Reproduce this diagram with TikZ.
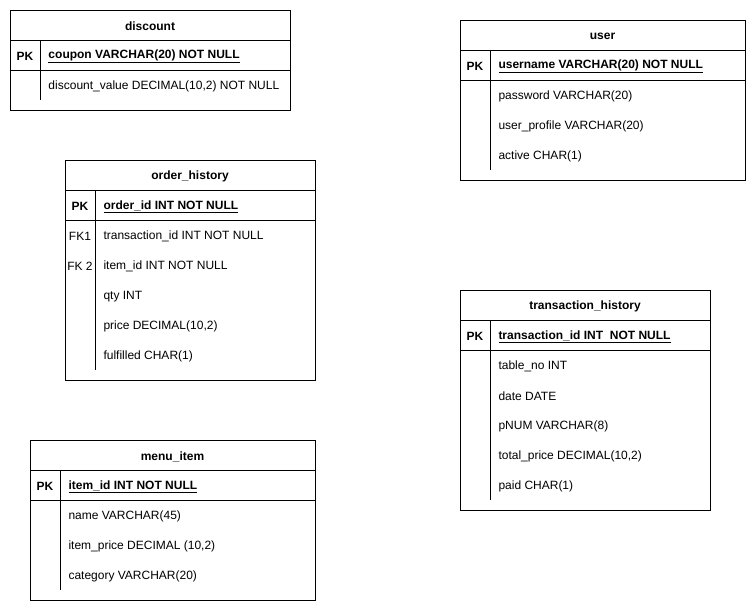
\documentclass[tikz,border=0pt]{standalone}
\usepackage{fontspec}
\setmainfont{Liberation Sans}
\begin{document}
\begin{tikzpicture}[x=1pt,y=-1pt,line width=1pt,
  font=\fontsize{12}{14}\selectfont,
  box/.style={draw,anchor=north west,inner sep=0pt,outer sep=0pt},
  title/.style={inner sep=0pt,yshift=-1.5pt,font=\fontsize{12}{14}\selectfont\bfseries},
  key/.style={inner sep=0pt,yshift=-1.5pt,font=\fontsize{12}{14}\selectfont\bfseries},
  fk/.style={inner sep=0pt,yshift=-1.5pt},
  field/.style={anchor=west,inner sep=0pt,yshift=-1.5pt},
  pkfield/.style={anchor=west,inner sep=0pt,yshift=-1.5pt,font=\fontsize{12}{14}\selectfont\bfseries}]
\useasboundingbox (0,0) rectangle (756,611);

% discount
\node[box,minimum width=280pt,minimum height=100pt] (discount) at (10,10) {};
\node[title] (discount-t) at (150,25) {discount};
\draw (10,40) -- (290,40);
\draw (10,70) -- (290,70);
\draw (40,40) -- (40,100);
\node[key] (discount-pk) at (25,55) {PK};
\node[pkfield] (discount-f0) at (48,55) {\underline{coupon VARCHAR(20) NOT NULL}};
\node[field] (discount-f1) at (48,85) {discount\_value DECIMAL(10,2) NOT NULL};

% user
\node[box,minimum width=285pt,minimum height=160pt] (user) at (460,20) {};
\node[title] (user-t) at (602.5,35) {user};
\draw (460,50) -- (745,50);
\draw (460,80) -- (745,80);
\draw (490,50) -- (490,170);
\node[key] (user-pk) at (475,65) {PK};
\node[pkfield] (user-f0) at (498,65) {\underline{username VARCHAR(20) NOT NULL}};
\node[field] (user-f1) at (498,95) {password VARCHAR(20)};
\node[field] (user-f2) at (498,125) {user\_profile VARCHAR(20)};
\node[field] (user-f3) at (498,155) {active CHAR(1)};

% order_history
\node[box,minimum width=250pt,minimum height=220pt] (order) at (65,160) {};
\node[title] (order-t) at (190,175) {order\_history};
\draw (65,190) -- (315,190);
\draw (65,220) -- (315,220);
\draw (95,190) -- (95,370);
\node[key] (order-pk) at (80,205) {PK};
\node[fk] (order-fk1) at (80,235) {FK1};
\node[fk] (order-fk2) at (80,265) {FK 2};
\node[pkfield] (order-f0) at (103,205) {\underline{order\_id INT NOT NULL}};
\node[field] (order-f1) at (103,235) {transaction\_id INT NOT NULL};
\node[field] (order-f2) at (103,265) {item\_id INT NOT NULL};
\node[field] (order-f3) at (103,295) {qty INT};
\node[field] (order-f4) at (103,325) {price DECIMAL(10,2)};
\node[field] (order-f5) at (103,355) {fulfilled CHAR(1)};

% transaction_history
\node[box,minimum width=250pt,minimum height=220pt] (trans) at (460,290) {};
\node[title] (trans-t) at (585,305) {transaction\_history};
\draw (460,320) -- (710,320);
\draw (460,350) -- (710,350);
\draw (490,320) -- (490,500);
\node[key] (trans-pk) at (475,335) {PK};
\node[pkfield] (trans-f0) at (498,335) {\underline{transaction\_id INT\ \ NOT NULL}};
\node[field] (trans-f1) at (498,365) {table\_no INT};
\node[field] (trans-f2) at (498,395) {date DATE};
\node[field] (trans-f3) at (498,425) {pNUM VARCHAR(8)};
\node[field] (trans-f4) at (498,455) {total\_price DECIMAL(10,2)};
\node[field] (trans-f5) at (498,485) {paid CHAR(1)};

% menu_item
\node[box,minimum width=285pt,minimum height=160pt] (menu) at (30,440) {};
\node[title] (menu-t) at (172.5,455) {menu\_item};
\draw (30,470) -- (315,470);
\draw (30,500) -- (315,500);
\draw (60,470) -- (60,590);
\node[key] (menu-pk) at (45,485) {PK};
\node[pkfield] (menu-f0) at (68,485) {\underline{item\_id INT NOT NULL}};
\node[field] (menu-f1) at (68,515) {name VARCHAR(45)};
\node[field] (menu-f2) at (68,545) {item\_price DECIMAL (10,2)};
\node[field] (menu-f3) at (68,575) {category VARCHAR(20)};
\end{tikzpicture}
\end{document}
